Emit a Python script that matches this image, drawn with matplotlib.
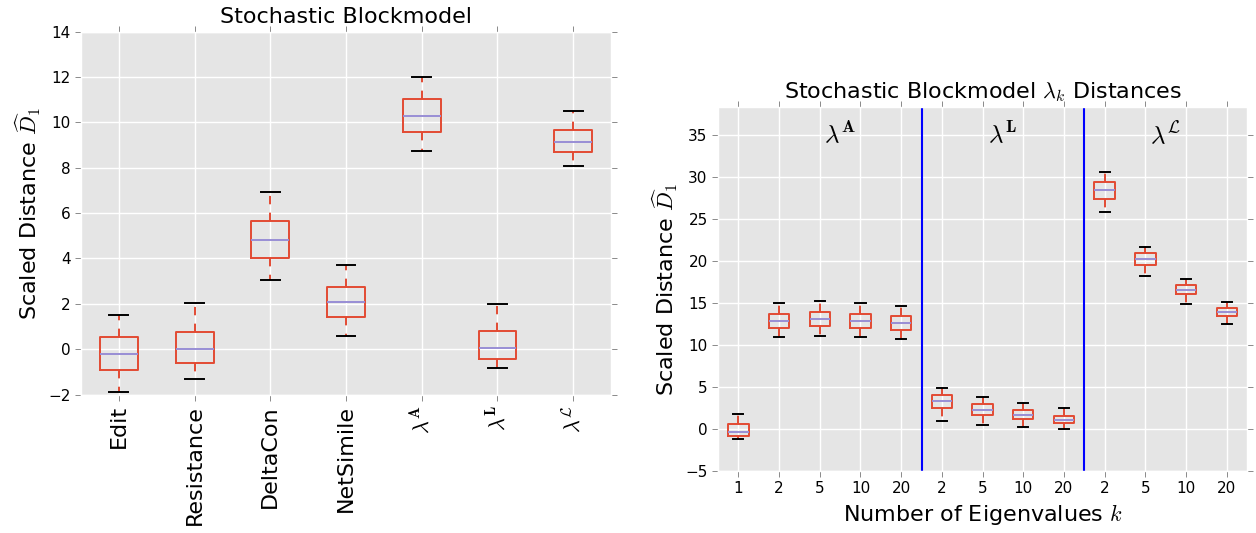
import matplotlib
matplotlib.use("Agg")
import matplotlib.pyplot as plt

plt.rcParams['mathtext.fontset'] = 'cm'
plt.rcParams['font.family'] = 'DejaVu Sans'

# Box statistics: whisker low, Q1, median, Q3, whisker high

# Stochastic Blockmodel, all distances
methods = ['Edit', 'Resistance', 'DeltaCon', 'NetSimile',
           r'$\lambda^{\mathbf{A}}$', r'$\lambda^{\mathbf{L}}$', r'$\lambda^{\mathcal{L}}$']
sbm_lo = [-1.9, -1.3, 3.05, 0.6, 8.75, -0.82, 8.08]
sbm_q1 = [-0.9, -0.6, 4.02, 1.42, 9.58, -0.45, 8.68]
sbm_med = [-0.2, 0.02, 4.8, 2.08, 10.3, 0.05, 9.15]
sbm_q3 = [0.55, 0.75, 5.65, 2.72, 11.05, 0.78, 9.65]
sbm_hi = [1.5, 2.05, 6.95, 3.7, 12.02, 2.0, 10.5]

# Spectral distances vs number of eigenvalues k
k_labels = ['1', '2', '5', '10', '20', '2', '5', '10', '20', '2', '5', '10', '20']
k_lo = [-1.25, 10.9, 11.1, 10.95, 10.75, 1.0, 0.45, 0.25, 0.0, 25.8, 18.2, 14.9, 12.5]
k_q1 = [-0.85, 12.0, 12.2, 12.0, 11.8, 2.55, 1.65, 1.2, 0.7, 27.3, 19.5, 16.0, 13.4]
k_med = [-0.3, 12.8, 13.05, 12.85, 12.6, 3.3, 2.3, 1.7, 1.1, 28.45, 20.2, 16.5, 13.9]
k_q3 = [0.55, 13.7, 13.9, 13.7, 13.45, 4.05, 2.95, 2.25, 1.6, 29.4, 20.9, 17.1, 14.35]
k_hi = [1.8, 14.95, 15.2, 14.95, 14.6, 4.9, 3.75, 3.1, 2.55, 30.6, 21.7, 17.8, 15.1]

group_names = [r'$\lambda^{\mathbf{A}}$', r'$\lambda^{\mathbf{L}}$', r'$\lambda^{\mathcal{L}}$']
group_centers = [3.5, 7.5, 11.5]
group_splits = [5.5, 9.5]

RED = '#E24A33'
PURPLE = '#988ED5'


def make_stats(lo, q1, med, q3, hi):
    return [dict(whislo=a, q1=b, med=c, q3=d, whishi=e, fliers=[])
            for a, b, c, d, e in zip(lo, q1, med, q3, hi)]


def style_axes(ax):
    ax.set_facecolor('#E5E5E5')
    ax.set_axisbelow(True)
    ax.grid(True, color='white', linewidth=1.0)
    for sp in ax.spines.values():
        sp.set_color('white')
        sp.set_linewidth(1.0)
    ax.tick_params(top=True, right=True, direction='out', length=4,
                   width=0.6, color='#777777', labelsize=11)


def draw_boxes(ax, stats):
    ax.bxp(stats, widths=0.5, showfliers=False,
           boxprops=dict(color=RED, linewidth=1.4),
           whiskerprops=dict(color=RED, linewidth=1.4, linestyle=(0, (4.3, 4.3))),
           capprops=dict(color='black', linewidth=1.4),
           medianprops=dict(color=PURPLE, linewidth=1.4))


fig = plt.figure(figsize=(12.56, 5.33), dpi=100)
ax1 = fig.add_axes([0.0645, 0.2598, 0.4220, 0.6807])
ax2 = fig.add_axes([0.5717, 0.1163, 0.4212, 0.6829])

# left panel
style_axes(ax1)
draw_boxes(ax1, make_stats(sbm_lo, sbm_q1, sbm_med, sbm_q3, sbm_hi))
ax1.set_xlim(0.5, len(methods) + 0.5)
ax1.set_ylim(-2, 14)
ax1.set_xticks(range(1, len(methods) + 1))
ax1.set_xticklabels(methods, rotation=90, fontsize=16)
ax1.set_ylabel(r'Scaled Distance $\widehat{D}_1$', fontsize=16)
ax1.set_title('Stochastic Blockmodel', fontsize=16)

# right panel
style_axes(ax2)
draw_boxes(ax2, make_stats(k_lo, k_q1, k_med, k_q3, k_hi))
ax2.set_xlim(0.5, len(k_labels) + 0.5)
ax2.set_ylim(-5, 38.3)
ax2.set_yticks(range(-5, 36, 5))
ax2.set_xticks(range(1, len(k_labels) + 1))
ax2.set_xticklabels(k_labels)
for xs in group_splits:
    ax2.axvline(xs, color='blue', linewidth=1.5)
for name, xc in zip(group_names, group_centers):
    ax2.text(xc, 35, name, ha='center', va='center', fontsize=18)
ax2.set_xlabel(r'Number of Eigenvalues $k$', fontsize=16)
ax2.set_ylabel(r'Scaled Distance $\widehat{D}_1$', fontsize=16)
ax2.set_title(r'Stochastic Blockmodel $\lambda_k$ Distances', fontsize=16)

fig.savefig('out.png', dpi=100)
